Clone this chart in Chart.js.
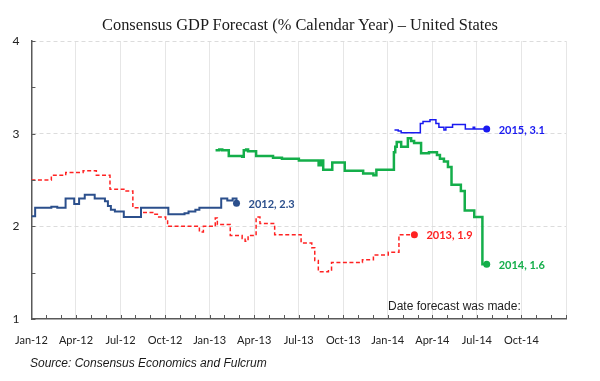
<!DOCTYPE html>
<html>
<head>
<meta charset="utf-8">
<script src="https://cdn.jsdelivr.net/npm/chart.js@4.4.0/dist/chart.umd.min.js"></script>
<style>
  body { margin: 0; background: #fff; }
  #wrap { position: relative; width: 600px; height: 381px; }
  canvas { position: absolute; left: 0; top: 0; }
  #title { position: absolute; left: 0; top: 15px; width: 600px; text-align: center;
           font: 16.4px "Liberation Serif", serif; color: #1a1a1a; }
  #source { position: absolute; left: 30px; top: 356px;
            font: italic 12px "Liberation Sans", Arial, sans-serif; color: #1a1a1a; }
</style>
</head>
<body>
<div id="wrap">
  <canvas id="chart" width="600" height="381"></canvas>
  <div id="title">Consensus GDP Forecast (% Calendar Year) – United States</div>
  <div id="source">Source: Consensus Economics and Fulcrum</div>
</div>
<script>
// x values are months since Jan-12, each point = value the forecast changed to
const quarterLabels = ['Jan-12', 'Apr-12', 'Jul-12', 'Oct-12', 'Jan-13', 'Apr-13',
  'Jul-13', 'Oct-13', 'Jan-14', 'Apr-14', 'Jul-14', 'Oct-14'];

const x2012 = [0, 0.25, 1.34, 1.74, 2.30, 2.88, 3.21, 3.59, 4.26, 4.95, 5.15, 5.35, 5.62, 6.22,
  7.38, 9.22, 10.31, 10.58, 11.04, 11.31, 12.78, 13.19, 13.55, 13.81];
const y2012 = [2.11, 2.20, 2.21, 2.20, 2.30, 2.24, 2.30, 2.34, 2.30, 2.27, 2.22, 2.18, 2.16, 2.10,
  2.20, 2.13, 2.14, 2.16, 2.18, 2.20, 2.30, 2.28, 2.30, 2.25];

const x2013 = [0, 1.34, 2.31, 3.48, 4.37, 5.29, 6.29, 6.83, 7.36, 8.17, 8.57, 9.04, 9.17, 11.31,
  11.58, 12.38, 12.52, 13.39, 14.19, 14.39, 14.59, 15.13, 15.39, 16.38, 18.16, 18.88, 19.08,
  19.32, 20.0, 20.21, 22.29, 23.03, 24.03, 24.75, 25.79];
const y2013 = [2.50, 2.55, 2.58, 2.60, 2.55, 2.40, 2.38, 2.20, 2.15, 2.13, 2.10, 2.07, 2.00, 1.94,
  2.00, 2.09, 2.02, 1.90, 1.87, 1.84, 1.90, 2.10, 2.03, 1.91, 1.82, 1.77, 1.63,
  1.51, 1.53, 1.61, 1.64, 1.69, 1.72, 1.91, 1.91];

const x2014 = [12.40, 12.65, 12.85, 13.29, 14.19, 14.30, 14.46, 14.59, 15.13, 16.27, 16.87, 18.01,
  19.34, 19.51, 19.65, 20.26, 21.10, 22.34, 23.03, 23.23, 24.41, 24.50, 24.60, 24.90, 25.35,
  25.57, 25.77, 26.24, 26.77, 27.31, 27.51, 27.78, 28.05, 28.29, 28.92, 29.18, 29.82, 30.37, 30.66];
const y2014 = [2.82, 2.83, 2.82, 2.76, 2.75, 2.82, 2.83, 2.81, 2.76, 2.74, 2.73, 2.71,
  2.66, 2.71, 2.61, 2.69, 2.60, 2.57, 2.55, 2.61, 2.80, 2.86, 2.91, 2.86, 2.95,
  2.92, 2.90, 2.79, 2.80, 2.77, 2.73, 2.70, 2.64, 2.45, 2.38, 2.17, 2.10, 1.59, 1.59];

const x2015 = [24.45, 24.70, 24.90, 26.19, 26.37, 26.84, 27.24, 27.44, 27.78, 27.91, 28.36,
  29.22, 29.75, 29.85, 30.66];
const y2015 = [3.04, 3.03, 3.01, 3.11, 3.13, 3.15, 3.11, 3.07, 3.04, 3.07, 3.10,
  3.05, 3.07, 3.05, 3.05];

const endLabels = ['2012, 2.3', '2013, 1.9', '2014, 1.6', '2015, 3.1'];
const colors = ['#2b4f8c', '#ff2222', '#14ae4a', '#1a1af0'];

const pairs = (xs, ys) => xs.map((v, i) => ({ x: v, y: ys[i] }));
const lastDot = ctx => ctx.dataIndex === ctx.dataset.data.length - 1 ? 3.5 : 0;

function series(xs, ys, i, width, dash) {
  return {
    data: pairs(xs, ys),
    borderColor: colors[i],
    backgroundColor: colors[i],
    borderWidth: width,
    borderDash: dash || [],
    stepped: 'before',
    pointRadius: lastDot,
    pointHoverRadius: lastDot,
    pointBorderWidth: 0
  };
}

// tick marks point into the plot, plus the end labels and the note
const extras = {
  id: 'extras',
  afterDraw(chart) {
    const { ctx, chartArea: a, scales: { x, y } } = chart;
    ctx.save();
    ctx.strokeStyle = '#595959';
    ctx.lineWidth = 1;
    ctx.beginPath();
    x.ticks.forEach(t => {
      const px = Math.round(x.getPixelForValue(t.value)) + 0.5;
      ctx.moveTo(px, a.bottom);
      ctx.lineTo(px, a.bottom - 4);
    });
    y.ticks.forEach(t => {
      const py = Math.round(y.getPixelForValue(t.value)) + 0.5;
      ctx.moveTo(a.left, py);
      ctx.lineTo(a.left + 4, py);
    });
    ctx.stroke();

    ctx.font = 'bold 11px Lato, sans-serif';
    ctx.textBaseline = 'middle';
    chart.data.datasets.forEach((ds, i) => {
      const pts = chart.getDatasetMeta(i).data;
      const p = pts[pts.length - 1];
      ctx.fillStyle = colors[i];
      ctx.fillText(endLabels[i], p.x + 12, p.y + 1);
    });

    ctx.font = '12px "Liberation Sans", Arial, sans-serif';
    ctx.fillStyle = '#222';
    ctx.fillText('Date forecast was made:', a.right - 178, a.bottom - 12);
    ctx.restore();
  }
};

new Chart(document.getElementById('chart'), {
  type: 'line',
  data: {
    datasets: [
      series(x2012, y2012, 0, 2),
      series(x2013, y2013, 1, 1.5, [4, 2.5]),
      series(x2014, y2014, 2, 2.5),
      series(x2015, y2015, 3, 1.5)
    ]
  },
  options: {
    responsive: false,
    animation: false,
    layout: { padding: { top: 41, right: 34, left: 0, bottom: 0 } },
    plugins: {
      legend: { display: false },
      tooltip: { enabled: false }
    },
    scales: {
      x: {
        type: 'linear',
        min: 0,
        max: 36,
        afterFit: s => { s.height = 62; },
        ticks: {
          stepSize: 1,
          autoSkip: false,
          maxRotation: 0,
          padding: 15,
          color: '#222',
          font: { family: 'Lato', size: 11 },
          callback: v => (v % 3 === 0 && v / 3 < quarterLabels.length) ? quarterLabels[v / 3] : ''
        },
        grid: {
          drawTicks: false,
          color: c => (c.tick && c.tick.value % 3 === 0) ? '#e6e6e6' : 'rgba(0,0,0,0)'
        },
        border: { color: '#595959', width: 1.5 }
      },
      y: {
        min: 1,
        max: 4,
        afterFit: s => { s.width = 28; },
        ticks: {
          stepSize: 0.5,
          padding: 12,
          color: '#222',
          font: { family: 'Lato', size: 12 },
          callback: v => Number.isInteger(v) ? String(v) : ''
        },
        grid: {
          drawTicks: false,
          color: c => (c.tick && Number.isInteger(c.tick.value) && c.tick.value > 1) ? '#dcdcdc' : 'rgba(0,0,0,0)'
        },
        border: { color: '#595959', width: 1.5, dash: [4, 3] }
      }
    }
  },
  plugins: [extras]
});
</script>
</body>
</html>
